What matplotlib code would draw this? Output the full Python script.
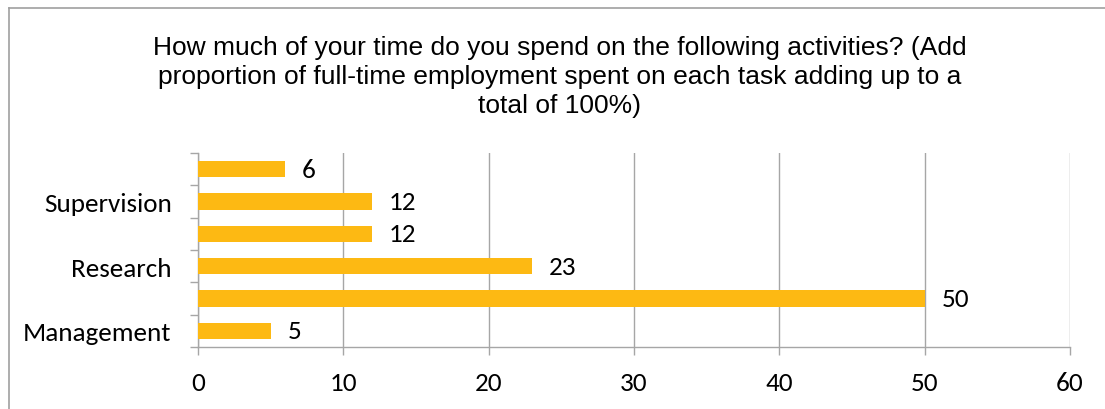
import matplotlib
matplotlib.use("Agg")
import matplotlib.pyplot as plt
from matplotlib import font_manager
from matplotlib.lines import Line2D
import numpy as np

# Share of working time per activity (bottom to top)
activity_labels = ["Management", "", "Research", "", "Supervision", ""]
time_share = [5, 50, 23, 12, 12, 6]
x_ticks = [0, 10, 20, 30, 40, 50, 60]

title = ("How much of your time do you spend on the following activities? (Add\n"
         "proportion of full-time employment spent on each task adding up to a\n"
         "total of 100%)")

installed = {f.name for f in font_manager.fontManager.ttflist}
label_font = next((f for f in ["Carlito", "Lato", "Open Sans"] if f in installed), "DejaVu Sans")
title_font = next((f for f in ["Liberation Sans", "Arial"] if f in installed), "DejaVu Sans")

bar_color = "#FDB913"
grid_color = "#A6A6A6"
label_size = 19.5

W, H = 1105, 410
fig = plt.figure(figsize=(W / 100, H / 100), dpi=100)

# outer chart frame (left and top edges)
fig.add_artist(Line2D([9 / W, 9 / W], [0, 1 - 9 / H], transform=fig.transFigure,
                      color="#A0A0A0", lw=1.2))
fig.add_artist(Line2D([9 / W, 1], [1 - 9 / H, 1 - 9 / H], transform=fig.transFigure,
                      color="#A0A0A0", lw=1.2))

fig.text(560 / W, 1 - 77 / H, title, ha="center", va="center",
         fontsize=19, family=title_font, linespacing=1.25)

left, right, top, bottom = 198, 1070, 154, 348
ax = fig.add_axes([left / W, 1 - bottom / H, (right - left) / W, (bottom - top) / H])

y = np.arange(len(time_share))
ax.barh(y, time_share, height=0.5, color=bar_color, zorder=3)
for yi, v in zip(y, time_share):
    ax.annotate(f"{v:g}", (v, yi), xytext=(12, 0), textcoords="offset points",
                ha="left", va="center", fontsize=label_size, family=label_font, color="black")

ax.set_xlim(0, 60)
ax.set_ylim(-0.5, len(time_share) - 0.5)
ax.set_xticks(x_ticks)
ax.set_xticklabels([str(t) for t in x_ticks], family=label_font, fontsize=label_size)
ax.set_yticks(y)
ax.set_yticklabels(activity_labels, family=label_font, fontsize=label_size)
ax.set_yticks(np.arange(-0.5, len(time_share)), minor=True)

ax.tick_params(axis="y", which="major", length=0, pad=19)
ax.tick_params(axis="y", which="minor", length=6, color=grid_color, width=1)
ax.tick_params(axis="x", which="major", length=6, color=grid_color, width=1, pad=11)

ax.grid(axis="x", color=grid_color, lw=1, zorder=0)
for s in ["top", "right"]:
    ax.spines[s].set_visible(False)
for s in ["left", "bottom"]:
    ax.spines[s].set_color(grid_color)
    ax.spines[s].set_linewidth(1)

fig.savefig("out.png", dpi=100)
